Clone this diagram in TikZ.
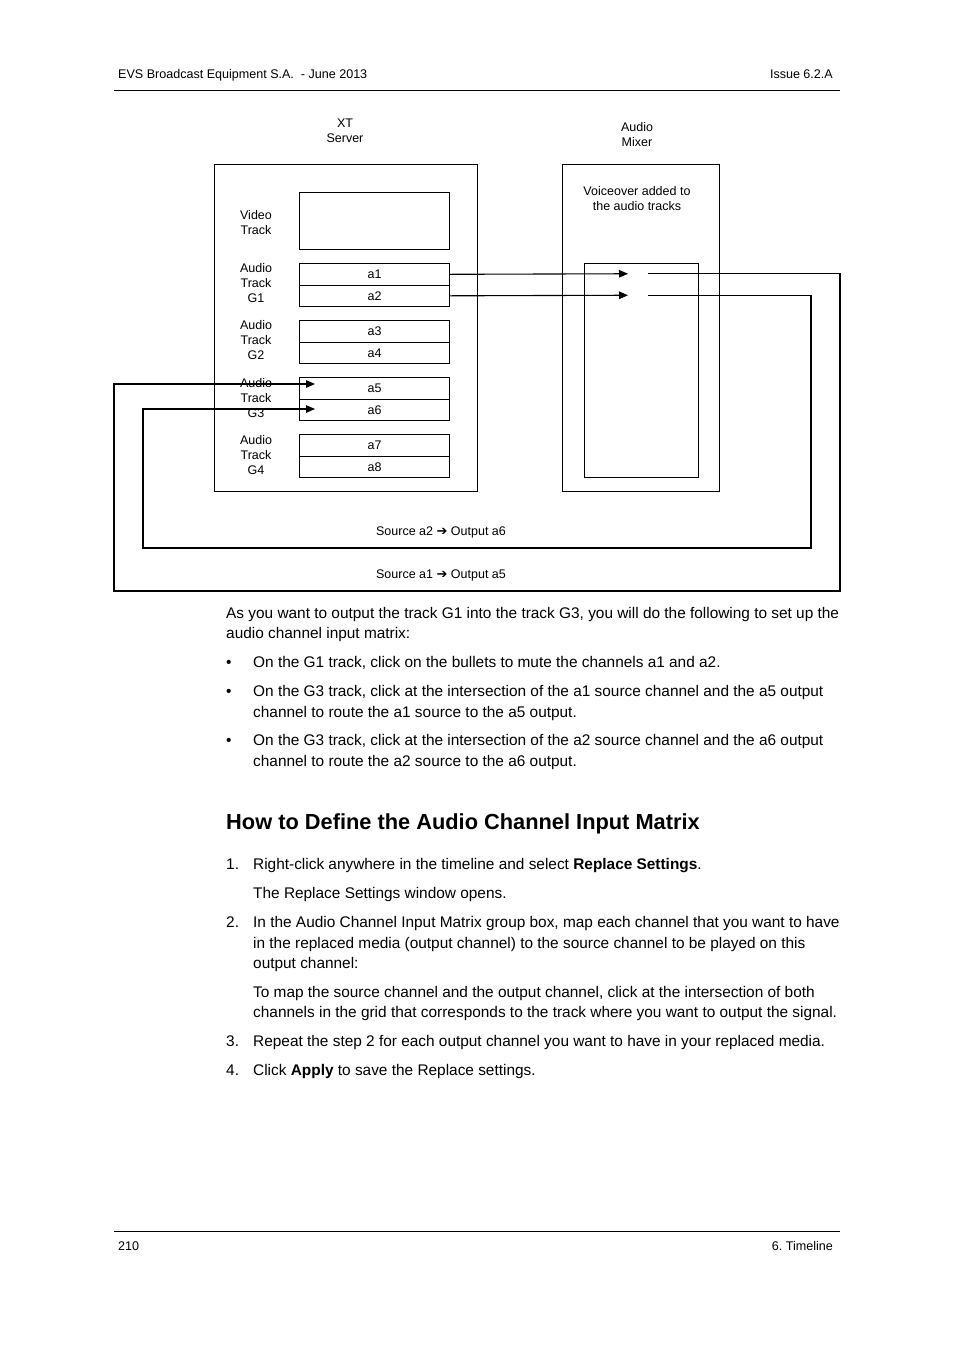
\documentclass[tikz,border=0pt]{standalone}
\usepackage{fontspec}
\setmainfont{Liberation Sans}
\newfontfamily\dejavu{DejaVu Sans}
\usetikzlibrary{arrows.meta}
\frenchspacing
\begin{document}
\begin{tikzpicture}[x=1pt,y=-1pt,
  box/.style={draw, line width=1.1pt, inner sep=0pt, anchor=north west},
  trk/.style={box, minimum width=150pt, minimum height=21.5pt, font=\fontsize{12.5}{15}\selectfont},
  lbl/.style={align=center, inner sep=0pt, font=\fontsize{12.5}{15}\selectfont},
  wire/.style={line width=1.1pt},
  arr/.style={wire, -{Triangle[length=9pt,width=7.5pt]}},
  body/.style={anchor=base west, inner sep=0pt, font=\fontsize{15.4}{20}\selectfont},
  small/.style={inner sep=0pt, font=\fontsize{12.55}{15}\selectfont},
  rule/.style={line width=1pt}
]
\useasboundingbox[fill=white] (0,0) rectangle (954,1350);
% header / footer
\node[small, anchor=base west] (hdrL) at (118,78) {EVS Broadcast Equipment S.A.\ \ - June 2013};
\node[small, anchor=base east] (hdrR) at (833,78) {Issue 6.2.A};
\coordinate (hr1) at (114,90); \coordinate (hr2) at (840,90);
\draw[rule] (hr1) -- (hr2);
\coordinate (fr1) at (114,1231); \coordinate (fr2) at (840,1231);
\draw[rule] (fr1) -- (fr2);
\node[small, anchor=base west] (ftrL) at (118,1250) {210};
\node[small, anchor=base east] (ftrR) at (833,1250) {6. Timeline};

% XT server
\node[lbl] (xtlab) at (345,131) {XT\\Server};
\node[box, minimum width=263pt, minimum height=327pt] (xt) at (214,164) {};
\node[box, minimum width=150pt, minimum height=57pt] (video) at (299,192) {};
\node[lbl] (vlab) at (256,223) {Video\\Track};
\node[trk] (a1) at (299,263) {a1};
\node[trk] (a2) at (299,284.5) {a2};
\node[lbl] (g1) at (256,283) {Audio\\Track\\G1};
\node[trk] (a3) at (299,320) {a3};
\node[trk] (a4) at (299,341.5) {a4};
\node[lbl] (g2) at (256,340) {Audio\\Track\\G2};
\node[trk] (a5) at (299,377) {a5};
\node[trk] (a6) at (299,398.5) {a6};
\node[lbl] (g3) at (256,398) {Audio\\Track\\G3};
\node[trk] (a7) at (299,434) {a7};
\node[trk] (a8) at (299,455.5) {a8};
\node[lbl] (g4) at (256,455) {Audio\\Track\\G4};

% Audio mixer
\node[lbl] (mixlab) at (637,135) {Audio\\Mixer};
\node[box, minimum width=157pt, minimum height=327pt] (mixer) at (562,164) {};
\node[lbl] (vo) at (637,199) {Voiceover added to\\the audio tracks};
\node[box, minimum width=114pt, minimum height=214pt] (inner) at (584,263) {};

% routing
\coordinate (tipA) at (628,273.75);
\coordinate (tipB) at (628,295.25);
\draw[arr] (a1.east) -- (tipA);
\draw[arr] (a2.east) -- (tipB);
\coordinate (outA) at (648,273.75);
\coordinate (outB) at (648,295.25);
\coordinate (cA) at (840,591);
\coordinate (cA2) at (114,591);
\coordinate (cB) at (811,548);
\coordinate (cB2) at (143,548);
\coordinate (inA) at (315,384);
\coordinate (inB) at (315,409);
\draw[arr] (outA) -| (cA) -- (cA2) |- (inA);
\draw[arr] (outB) -| (cB) -- (cB2) |- (inB);
\node[lbl] (srcB) at (441,532) {Source a2 {\dejavu\fontsize{13}{14}\selectfont ➔} Output a6};
\node[lbl] (srcA) at (441,575) {Source a1 {\dejavu\fontsize{13}{14}\selectfont ➔} Output a5};

% body text
\node[body] (p1) at (226,618) {As you want to output the track G1 into the track G3, you will do the following to set up the};
\node[body] (p2) at (226,638) {audio channel input matrix:};
\node[body] (b1) at (226,667) {•};
\node[body] (b1t) at (253,667) {On the G1 track, click on the bullets to mute the channels a1 and a2.};
\node[body] (b2) at (226,696) {•};
\node[body] (b2t) at (253,696) {On the G3 track, click at the intersection of the a1 source channel and the a5 output};
\node[body] (b2u) at (253,717) {channel to route the a1 source to the a5 output.};
\node[body] (b3) at (226,745) {•};
\node[body] (b3t) at (253,745) {On the G3 track, click at the intersection of the a2 source channel and the a6 output};
\node[body] (b3u) at (253,766) {channel to route the a2 source to the a6 output.};

\node[body, font=\fontsize{21.8}{25}\bfseries] (head) at (226,829) {How to Define the Audio Channel Input Matrix};

\node[body] (n1) at (226,869) {1.};
\node[body] (n1t) at (253,869) {Right-click anywhere in the timeline and select \textbf{Replace Settings}.};
\node[body] (n1u) at (253,898) {The Replace Settings window opens.};
\node[body] (n2) at (226,927) {2.};
\node[body] (n2t) at (253,927) {In the Audio Channel Input Matrix group box, map each channel that you want to have};
\node[body] (n2u) at (253,948) {in the replaced media (output channel) to the source channel to be played on this};
\node[body] (n2v) at (253,968) {output channel:};
\node[body] (n2w) at (253,997) {To map the source channel and the output channel, click at the intersection of both};
\node[body] (n2x) at (253,1017) {channels in the grid that corresponds to the track where you want to output the signal.};
\node[body] (n3) at (226,1046) {3.};
\node[body] (n3t) at (253,1046) {Repeat the step 2 for each output channel you want to have in your replaced media.};
\node[body] (n4) at (226,1075) {4.};
\node[body] (n4t) at (253,1075) {Click \textbf{Apply} to save the Replace settings.};
\end{tikzpicture}
\end{document}
